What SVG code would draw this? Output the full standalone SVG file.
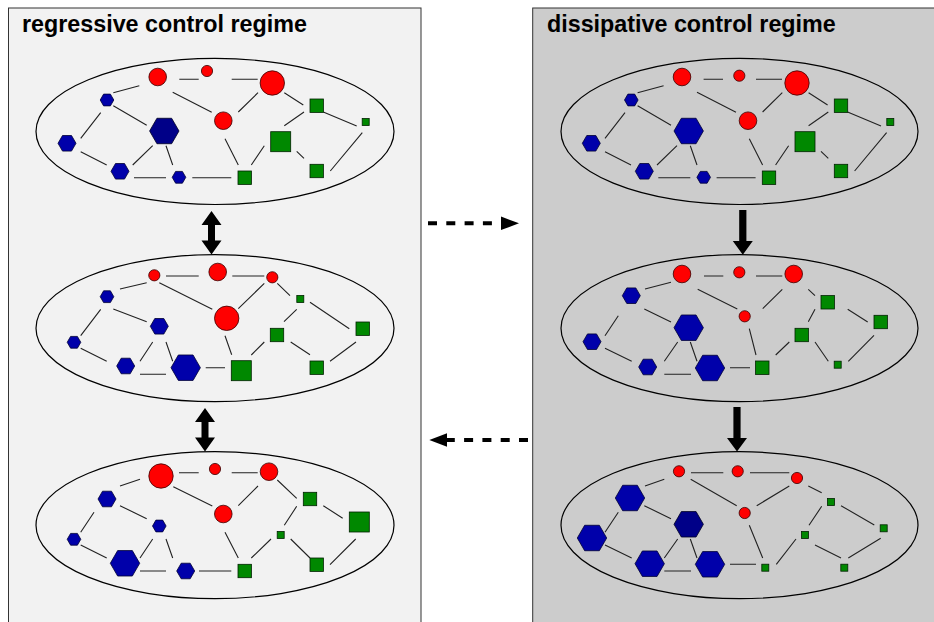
<svg xmlns="http://www.w3.org/2000/svg" xmlns:xlink="http://www.w3.org/1999/xlink" width="934" height="622" viewBox="0 0 934 622">
<style>
.panel{stroke:#333;stroke-width:1}
.title{font-family:"Liberation Sans",Arial,Helvetica,sans-serif;font-weight:bold;font-size:23.3px;fill:#000}
.ell{fill:none;stroke:#000;stroke-width:1.2}
.e{fill:none;stroke:#222;stroke-width:1.1}
.r{fill:#ff0000;stroke:#3a0000;stroke-width:0.8}
.b{fill:#0000aa;stroke:#000033;stroke-width:0.8}
.n{fill:#000088;stroke:#000022;stroke-width:0.8}
.g{fill:#008800;stroke:#002200;stroke-width:0.8}
.arr{fill:#000;stroke:none}
.dash{fill:none;stroke:#000;stroke-width:4;stroke-dasharray:9 9.3}
</style>
<defs>
<polygon id="hS" points="6.8,0 3.4,5.89 -3.4,5.89 -6.8,0 -3.4,-5.89 3.4,-5.89"/>
<polygon id="hM" points="9,0 4.5,7.79 -4.5,7.79 -9,0 -4.5,-7.79 4.5,-7.79"/>
<polygon id="hL" points="14.7,0 7.35,12.73 -7.35,12.73 -14.7,0 -7.35,-12.73 7.35,-12.73"/>
<rect id="sS" x="-3.5" y="-3.5" width="7" height="7"/>
<rect id="sM" x="-6.7" y="-6.7" width="13.4" height="13.4"/>
<rect id="sL" x="-10" y="-10" width="20" height="20"/>
</defs>

<g id="panel-regressive">
<rect class="panel" x="8.5" y="8" width="412.5" height="630" fill="#f2f2f2"/>
<text class="title" x="22" y="32">regressive control regime</text>
</g>
<g id="panel-dissipative">
<rect class="panel" x="532.7" y="8" width="420" height="630" fill="#cccccc"/>
<text class="title" x="547" y="32">dissipative control regime</text>
</g>

<g id="net-regressive-1">
<ellipse class="ell" cx="215" cy="131.4" rx="179" ry="73.1"/>
<path class="e" d="M179.3 79.3H198.7M231.7 79.3H257.7M113.3 92.7L139.3 85.7M172.7 92.3L211.7 112.3M238.3 112L258 92.7M284.3 92.7L303.3 105M323.3 112L356.7 126M304 112L284.3 125.7M362.3 132.7L330.3 171M296.7 151.3L304 158.3M264.3 145.7L251.3 165M225 138.7L238.3 165M192.3 177.7H231.3M134 177.7H166M132.7 165L152.7 145.7M166 145.7L172.7 165M113.3 105.7L146.7 125.3M100.7 112.7L80.7 138.3M80.7 151.7L106.7 165"/>
<circle class="r" cx="157.7" cy="77" r="8.8"/>
<circle class="r" cx="207" cy="71" r="5.6"/>
<circle class="r" cx="272.3" cy="83" r="12.2"/>
<circle class="r" cx="223.3" cy="120.7" r="8.8"/>
<use class="b" xlink:href="#hS" x="107" y="100"/>
<use class="n" xlink:href="#hL" x="164.3" y="131"/>
<use class="b" xlink:href="#hM" x="67" y="143.3"/>
<use class="b" xlink:href="#hM" x="120" y="171.3"/>
<use class="b" xlink:href="#hS" x="179" y="177.3"/>
<use class="g" xlink:href="#sM" x="316.7" y="105.7"/>
<use class="g" xlink:href="#sS" x="365.7" y="122"/>
<use class="g" xlink:href="#sL" x="280.7" y="141.7"/>
<use class="g" xlink:href="#sM" x="316.7" y="171"/>
<use class="g" xlink:href="#sM" x="244.7" y="177.7"/>
</g>

<g id="net-regressive-2">
<ellipse class="ell" cx="215" cy="328.2" rx="179" ry="73.5"/>
<path class="e" d="M166 276H198.7M232.3 276H264.3M120 289L146.7 282.7M159.3 282.7L212.3 309.3M238.3 308.7L264.3 283.3M277.3 283.3L290 295.7M310 302.3L349.3 328.7M296.7 309.3L284 321.7M356 342L330 361.3M290.7 342L310 354.7M264.3 342L251.3 355M225 335.7L231.7 354.7M205.7 367.7H225M140 374.3H166M140 361.3L152.7 342M166 342L172.7 361.3M113.3 309L146.7 321.7M100.7 309.3L80.7 335.7M80.7 348.3L106.7 361.3"/>
<circle class="r" cx="154.3" cy="275.3" r="5.6"/>
<circle class="r" cx="217.7" cy="272" r="8.8"/>
<circle class="r" cx="272.3" cy="277.3" r="5.6"/>
<circle class="r" cx="226.7" cy="318.3" r="12.2"/>
<use class="b" xlink:href="#hS" x="107" y="296.7"/>
<use class="b" xlink:href="#hM" x="159.3" y="326.3"/>
<use class="b" xlink:href="#hS" x="74" y="342.3"/>
<use class="b" xlink:href="#hM" x="125.7" y="366"/>
<use class="b" xlink:href="#hL" x="185.7" y="367.7"/>
<use class="g" xlink:href="#sS" x="300.3" y="299"/>
<use class="g" xlink:href="#sM" x="362.7" y="328.7"/>
<use class="g" xlink:href="#sM" x="277" y="335"/>
<use class="g" xlink:href="#sM" x="316.7" y="367.7"/>
<use class="g" xlink:href="#sL" x="241.3" y="370.7"/>
</g>

<g id="net-regressive-3">
<ellipse class="ell" cx="215" cy="525.2" rx="179" ry="73.5"/>
<path class="e" d="M179 472.7H198.7M231.7 472.7H257.7M120 486L140 479.3M173.3 486.7L212.3 506M238.3 505.7L258 486M277.3 480L296.7 498.3M323.3 505.7L342.7 518.3M296.7 506.3L284.3 525.3M355.7 539L330 564.7M290.7 539L310 558M271 539L251.3 558M225 532.3L238.3 558M199 571H231.3M140 571H166M140 558L152.7 539M166 539L172.7 558M120 505.7L146.7 518.7M94 512.3L80.7 532.3M80.7 545L106.7 558"/>
<circle class="r" cx="161" cy="476" r="12.2"/>
<circle class="r" cx="215" cy="469" r="5.6"/>
<circle class="r" cx="269" cy="471.7" r="8.8"/>
<circle class="r" cx="223.3" cy="514" r="8.8"/>
<use class="b" xlink:href="#hM" x="107" y="499"/>
<use class="b" xlink:href="#hS" x="159.3" y="526"/>
<use class="b" xlink:href="#hS" x="74" y="539.3"/>
<use class="b" xlink:href="#hL" x="125" y="563.3"/>
<use class="b" xlink:href="#hM" x="185.7" y="571"/>
<use class="g" xlink:href="#sM" x="310" y="499"/>
<use class="g" xlink:href="#sL" x="359.3" y="522"/>
<use class="g" xlink:href="#sS" x="280.7" y="535"/>
<use class="g" xlink:href="#sM" x="316.7" y="564.7"/>
<use class="g" xlink:href="#sM" x="244.7" y="571"/>
</g>

<g id="net-dissipative-1">
<ellipse class="ell" cx="739.5" cy="131.4" rx="178.5" ry="73.1"/>
<path class="e" transform="translate(524.3 0)" d="M179.3 79.3H198.7M231.7 79.3H257.7M113.3 92.7L139.3 85.7M172.7 92.3L211.7 112.3M238.3 112L258 92.7M284.3 92.7L303.3 105M323.3 112L356.7 126M304 112L284.3 125.7M362.3 132.7L330.3 171M296.7 151.3L304 158.3M264.3 145.7L251.3 165M225 138.7L238.3 165M192.3 177.7H231.3M134 177.7H166M132.7 165L152.7 145.7M166 145.7L172.7 165M113.3 105.7L146.7 125.3M100.7 112.7L80.7 138.3M80.7 151.7L106.7 165"/>
<circle class="r" cx="682" cy="77" r="8.8"/>
<circle class="r" cx="739.3" cy="75.7" r="5.6"/>
<circle class="r" cx="797" cy="83" r="12.2"/>
<circle class="r" cx="748" cy="120.7" r="8.8"/>
<use class="b" xlink:href="#hS" x="631.3" y="100"/>
<use class="b" xlink:href="#hL" x="688.7" y="131"/>
<use class="b" xlink:href="#hM" x="591.3" y="143.3"/>
<use class="b" xlink:href="#hM" x="644.3" y="171.3"/>
<use class="b" xlink:href="#hS" x="703.7" y="177.3"/>
<use class="g" xlink:href="#sM" x="841" y="105.7"/>
<use class="g" xlink:href="#sS" x="890.3" y="122"/>
<use class="g" xlink:href="#sL" x="805" y="141.7"/>
<use class="g" xlink:href="#sM" x="841" y="171"/>
<use class="g" xlink:href="#sM" x="769" y="177.7"/>
</g>

<g id="net-dissipative-2">
<ellipse class="ell" cx="739.5" cy="328.2" rx="178.5" ry="73.5"/>
<path class="e" d="M704 276H723.3M756 276H782.3M645 289L671 282.3M697.7 289.3L737.3 309M762.7 308.7L782.3 289.3M808.3 289.3L815 295.7M847.7 309.3L867.7 322M815 309.3L808.3 321.7M874 335.3L848.3 361.3M815 342L828.3 361.3M789.3 342L775.7 355M749.3 328.7L756 355M730 367.7H750M664.3 374.3H691M664.3 361.3L677.7 342M690.3 342L697 361.3M644.3 309L671 322M618.3 315.7L605 335.7M605 348.3L631.7 361.3"/>
<circle class="r" cx="682" cy="274" r="8.8"/>
<circle class="r" cx="739.3" cy="272.3" r="5.6"/>
<circle class="r" cx="793.7" cy="274" r="8.8"/>
<circle class="r" cx="744.7" cy="316.3" r="5.6"/>
<use class="b" xlink:href="#hM" x="631.3" y="295.7"/>
<use class="b" xlink:href="#hL" x="688.7" y="327.7"/>
<use class="b" xlink:href="#hM" x="592" y="341.7"/>
<use class="b" xlink:href="#hM" x="647.7" y="367"/>
<use class="b" xlink:href="#hL" x="710" y="368"/>
<use class="g" xlink:href="#sM" x="827.7" y="302.3"/>
<use class="g" xlink:href="#sM" x="880.7" y="322"/>
<use class="g" xlink:href="#sM" x="801.7" y="335"/>
<use class="g" xlink:href="#sS" x="837.7" y="364.7"/>
<use class="g" xlink:href="#sM" x="762.3" y="367.7"/>
</g>

<g id="net-dissipative-3">
<ellipse class="ell" cx="739.5" cy="525.2" rx="178.5" ry="73.5"/>
<path class="e" d="M691 472.7H723.3M750 472.7H789.3M645 486L664.3 479.3M690.7 479.3L736.7 505.7M756.7 505.7L789.3 486M808.3 486L821.7 492.7M841 505.7L874.3 525M821.7 506.3L809 525.3M880.7 538.3L848.3 558M815 545L841 558M796 539L776.3 564.3M749.3 525.3L762.7 558M730 564.3H756M664.3 571H691M664.3 558L677.7 539M690.3 539L697 558M644.3 505.7L671 518.7M618.3 512.3L605 532.3M605 545L631.7 558"/>
<circle class="r" cx="679" cy="471.3" r="5.6"/>
<circle class="r" cx="737.7" cy="471.3" r="5.6"/>
<circle class="r" cx="797" cy="478" r="5.6"/>
<circle class="r" cx="744.7" cy="513" r="5.6"/>
<use class="b" xlink:href="#hL" x="630" y="498"/>
<use class="n" xlink:href="#hL" x="688.7" y="524.3"/>
<use class="b" xlink:href="#hL" x="592" y="538"/>
<use class="b" xlink:href="#hL" x="649.7" y="563.7"/>
<use class="b" xlink:href="#hL" x="710" y="564.3"/>
<use class="g" xlink:href="#sS" x="831" y="502"/>
<use class="g" xlink:href="#sS" x="883.7" y="528.3"/>
<use class="g" xlink:href="#sS" x="805" y="535"/>
<use class="g" xlink:href="#sS" x="844.3" y="567.7"/>
<use class="g" xlink:href="#sS" x="765.3" y="567.7"/>
</g>

<g id="connectors">
<path class="arr" d="M211.5 211L221.5 225L215 225L215 240.5L221.5 240.5L211.5 254.5L201.5 240.5L208 240.5L208 225L201.5 225Z"/>
<path class="arr" d="M205 408L215 422L208.5 422L208.5 437.5L215 437.5L205 451.5L195 437.5L201.5 437.5L201.5 422L195 422Z"/>
<path class="arr" d="M739.2 210H746.4V241H752.8L742.8 254.7L732.8 241H739.2Z"/>
<path class="arr" d="M733.4 407H740.6V438H747L737 451.5L727 438H733.4Z"/>
<path class="dash" d="M428 223.3H501"/>
<polygon class="arr" points="501,216.5 519,223.3 501,230.1"/>
<path class="dash" d="M528 440H446"/>
<polygon class="arr" points="429.3,440 447,433.3 447,446.7"/>
</g>
</svg>
